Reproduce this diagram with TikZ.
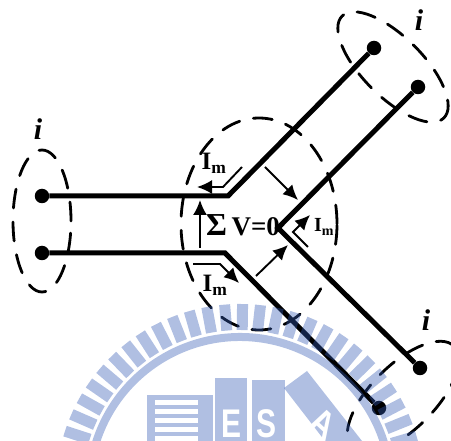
\documentclass[tikz,border=0pt]{standalone}
\usepackage{xcolor}
\usepackage{fontspec}
\setmainfont{Liberation Serif}
\setsansfont{Liberation Sans}
\usepackage{tikz}
\usetikzlibrary{arrows.meta}
\definecolor{myblue}{RGB}{51,90,180}
\tikzset{
  bus/.style={line width=5pt, color=black, line join=miter},
  terminal/.style={circle, fill=black, inner sep=0pt, minimum size=14.5pt},
  loopline/.style={line width=2.8pt, color=black, dash pattern=on 19pt off 14pt, line cap=round},
  arrow/.style={-{Latex[length=15pt, width=14pt]}, line width=1.9pt, color=black},
  symbol/.style={inner sep=0pt, font=\fontsize{30}{30}\selectfont\bfseries\itshape},
  current/.style={inner sep=0pt, font=\fontsize{25}{25}\selectfont\bfseries},
  currentsm/.style={inner sep=0pt, font=\fontsize{20}{20}\selectfont\bfseries},
  sumlabel/.style={inner sep=0pt, font=\fontsize{27}{27}\selectfont\bfseries},
  logotext/.style={inner sep=0pt, text=white, xscale=.75, transform shape, font=\sffamily\bfseries\fontsize{40}{40}\selectfont}
}
\begin{document}
\begin{tikzpicture}[x=1pt, y=-1pt]
  \clip (0,0) rectangle (451,441);
  \useasboundingbox (0,0) rectangle (451,441);
  % lines
  \node[terminal] (a1) at (42,196) {};
  \node[terminal] (a2) at (42,253) {};
  \node[terminal] (b1) at (374,48) {};
  \node[terminal] (b2) at (418,87) {};
  \node[terminal] (c1) at (420,368) {};
  \node[terminal] (c2) at (379,408) {};
  \coordinate (k1) at (228,196);
  \coordinate (k2) at (225,253);
  \coordinate (k3) at (278,228);
  \draw[bus] (a1) -- (k1) -- (b1);
  \draw[bus] (a2) -- (k2) -- (c2);
  \draw[bus] (b2) -- (k3) -- (c1);
  % loops
  \draw[loopline] (42,221) ellipse [x radius=29pt, y radius=71pt];
  \draw[loopline] (259,224) ellipse [x radius=78pt, y radius=106pt];
  \draw[loopline] (393,67) ellipse [x radius=72pt, y radius=30pt, rotate=-45];
  \draw[loopline] (403,397) ellipse [x radius=72pt, y radius=32pt, rotate=45];
  % arrows
  \coordinate (p1) at (200,248);
  \coordinate (p2) at (200,200);
  \draw[arrow] (p1) -- (p2);
  \coordinate (q1) at (265,167);
  \coordinate (q2) at (298,200);
  \draw[arrow] (q1) -- (q2);
  \coordinate (r1) at (256,276);
  \coordinate (r2) at (288,245);
  \draw[arrow] (r1) -- (r2);
  \coordinate (s1) at (242,167);
  \coordinate (s2) at (223,187);
  \coordinate (s3) at (197,187);
  \draw[arrow] (s1) -- (s2) -- (s3);
  \coordinate (t1) at (308,247);
  \coordinate (t2) at (293,232);
  \coordinate (t3) at (310,215);
  \draw[arrow] (t1) -- (t2) -- (t3);
  \coordinate (u1) at (193,264);
  \coordinate (u2) at (220,264);
  \coordinate (u3) at (239,283);
  \draw[arrow] (u1) -- (u2) -- (u3);
  % labels
  \node[symbol] (i1) at (38,129) {i};
  \node[symbol] (i2) at (419,20) {i};
  \node[symbol] (i3) at (426,320) {i};
  \node[current] (m1) at (214,163) {I\textsubscript{m}};
  \node[current] (m2) at (215,285) {I\textsubscript{m}};
  \node[currentsm] (m3) at (324,227) {I\textsubscript{m}};
  \node[sumlabel] (sum) at (243,225) {{\fontsize{32}{32}\selectfont Σ}\,V=0};
  % watermark
  \begin{scope}[shift={(240,488)}, opacity=.39]
    \foreach \ang in {10.8,16.4,...,170} {
      \fill[myblue, rotate=\ang] (158pt,-5.5pt) rectangle (184pt,5.5pt);
    }
    \fill[myblue] (10:155pt) arc [start angle=10, end angle=170, radius=155pt]
      -- (170:147pt) arc [start angle=170, end angle=10, radius=147pt] -- cycle;
  \end{scope}
  \begin{scope}[opacity=.39]
    \fill[myblue] (147,395) rectangle (213,400);
    \fill[myblue] (147,400) rectangle (155,441);
    \foreach \yy in {405,414,423,432} {
      \fill[myblue] (155,\yy) rectangle (198,\yy+4);
    }
    \fill[myblue] (198,400) rectangle (213,441);
    \fill[myblue] (215,378) rectangle (247,441);
    \fill[myblue] (252,380) rectangle (285,441);
    \fill[myblue] (284,388) -- (307,371) -- (362,441) -- (325,441) -- cycle;
  \end{scope}
  \node[logotext] (e) at (232,424) {E};
  \node[logotext] (s) at (267,424) {S};
  \node[logotext, rotate=-35] (aa) at (323,424) {A};
\end{tikzpicture}
\end{document}
